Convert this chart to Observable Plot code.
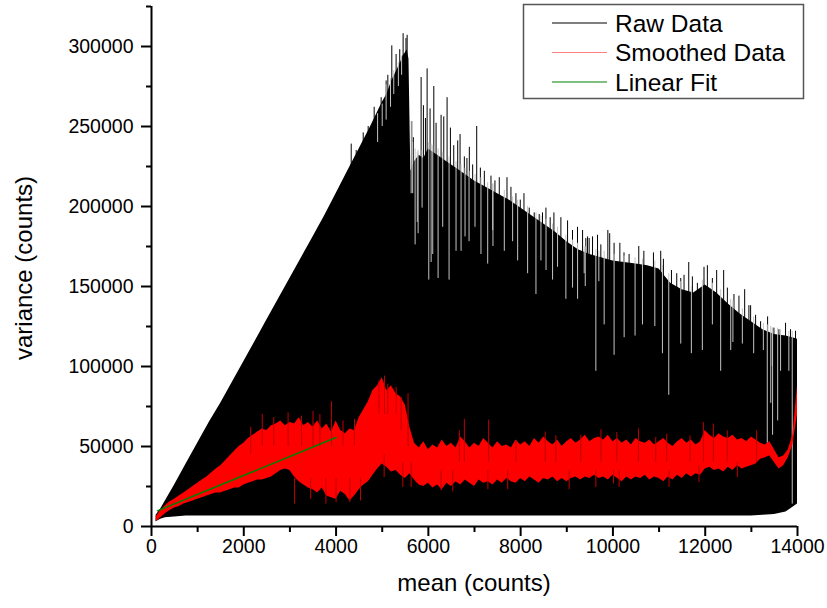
<!DOCTYPE html>
<html>
<head>
<meta charset="utf-8">
<script src="https://cdn.jsdelivr.net/npm/d3@7"></script>
<script src="https://cdn.jsdelivr.net/npm/@observablehq/plot@0.6"></script>
<style>
  html, body { margin: 0; padding: 0; background: white; }
  #chart svg { display: block; }
</style>
</head>
<body>
<div id="chart"></div>
<script>
// ---- Raw data envelope (mean counts -> variance, thousands) ----
const rawX  = [100, 200, 300, 500, 750, 1000, 1250, 1500, 1750, 2000, 2250, 2500, 2750, 3000, 3250, 3500, 3750, 4000, 4250, 4500, 4750, 5000,
               5100, 5200, 5300, 5400, 5450, 5500, 5540, 5580, 5620, 5700, 5800, 5900, 6000, 6200, 6400, 6600, 6800, 7000,
               7250, 7500, 7750, 8000, 8250, 8500, 8750, 9000, 9250, 9500, 9750, 10000, 10250, 10500, 10750, 11000, 11250,
               11500, 11750, 12000, 12250, 12500, 12750, 13000, 13250, 13500, 13750, 13900, 14000];
const rawHi = [7, 11, 16, 26, 39, 52, 65, 77, 90, 103, 116, 129, 142, 155, 168, 181, 194, 208, 222, 236, 250, 265,
               270, 278, 284, 290, 294, 296, 298, 292, 222, 228, 232, 230, 236, 232, 228, 224, 220, 216,
               212, 208, 204, 199, 194, 189, 184, 178, 173, 170, 168, 166, 165, 164, 163, 161, 152,
               148, 146, 151, 146, 139, 133, 128, 123, 120, 119, 118, 117];
const rawLo = [3, 4.5, 5.5, 6, 6.5, 6.5, 6.5, 6.5, 6.5, 6.5, 6.5, 6.5, 6.5, 6.5, 6.5, 6.5, 6.5, 6.5, 6.5, 6.5, 6.5, 6.5,
               6.5, 6.5, 6.5, 6.5, 6.5, 6.5, 6.5, 6.5, 6.5, 6.5, 6.5, 6.5, 6.5, 6.5, 6.5, 6.5, 6.5, 6.5,
               6.5, 6.5, 6.5, 6.5, 6.5, 6.5, 6.5, 6.5, 6.5, 6.5, 6.5, 6.5, 6.5, 6.5, 6.5, 6.5, 6.5,
               6.5, 6.5, 6.5, 6.5, 6.5, 6.5, 6.5, 7, 7.5, 9, 12, 14];
// raw spikes above the dense part: [mean, variance (k)]
const rawSpikes = [[4328,239],[4436,235],[4588,246],[4696,250],[4826,262],[4977,268],[5085,278.5],[5122,282],[5208,300.4],
  [5301,295],[5380,298],[5453,308],[5515,305],[5540,307],
  [5640,253],[5675,243],[5843,280.6],[5893,263],[5937,255],[5973,286],[6037,261],[6118,275],[6167,252],[6276,257],[6334,256],
  [6406,268],[6478,249],[6550,238],[6636,241],[6687,245],[6780,231],[6836,230],[6888,237],[6960,226],[7048,250],[7127,224],
  [7213,222],[7357,219],[7443,216],[7537,218],[7704,218],[7790,212],[7898,208],[7992,204],[8072,208],[8186,199],[8294,196],
  [8402,195],[8474,196],[8548,199],[8640,193],[8721,196],[8872,193],[9017,191],[9124,185],[9232,187],[9342,185],[9413,180],
  [9450,181],[9485,180],[9558,181],[9666,182],[9738,176],[9890,185],[9930,183],[10025,177],[10150,177],[10240,171],[10350,170],
  [10560,175],[10670,172],[10878,171],[11036,172],[11094,167],[11268,160],[11383,158],[11470,155],[11541,157],[11643,165],
  [11722,156],[11830,152],[11974,162],[12047,163],[12155,155],[12248,160],[12400,160],[12480,149],[12623,145],[12731,144],
  [12855,148],[12947,138],[12984,138],[13092,132],[13200,128],[13352,131],[13489,124],[13597,123],[13741,127],[13849,123],
  [13957,122]];
// raw dips (gaps) inside the dense part: [mean, low (k), high (k)]
const rawGaps = [[4900,240,258],[5000,250,264],[5085,254,276],[5180,262,280],[5250,270,285],[5350,275,290],[5420,282,294],
  [5627,208,253],[5660,208,240],[5713,176,236],[5760,190,234],[5778,183,235],[5864,199,235],
  [6009,154,240],[6060,165,239],[6095,170,238],[6211,155,236],[6311,187,234],[6449,154,231],[6600,172,228],[6709,172,226],
  [6795,181,224],[6882,178,222],[7011,187,220],[7140,170,218],[7286,164,215],[7394,185,214],[7400,175,214],[7646,172,210],
  [7826,178,206],[7935,166,204],[8151,158,200],[8332,145,196],[8440,166,194],[8550,160,192],[8692,154,189],[8800,162,187],
  [8980,142,182],[9125,149,179],[9234,142,177],[9377,158,175],[9400,150,175],[9630,97,173],[9695,153,172],[9810,126,172],
  [10025,107,170],[10243,118,169],[10480,119,168],[10640,126,167],[10908,125,166],[11073,108,163],[11210,82,158],
  [11470,114,153],[11700,108,150],[11938,110,154],[12155,126,152],[12335,97,148],[12553,110,142],[12600,115,141],
  [12805,114,136],[13050,108,131],[13260,110,127],[13345,52,126],[13420,77,125],[13453,100,124],[13460,57,124],
  [13570,66,124],[13633,97,123],[13813,97,122],[13886,14,122]];

// ---- Smoothed data band, sampled every 100 counts from 100 to 14000 (variance, thousands) ----
const smoothHi = [6, 10, 13, 15.5, 17, 19, 21, 23, 25, 27,
  29, 31, 33.5, 36, 38, 41, 44, 47, 50, 52,
  55, 57, 59, 61, 60, 63, 64, 66, 63, 65,
  64, 68, 63, 65, 62, 66, 61, 64, 59, 66,
  60, 58, 61, 60, 68, 73, 78, 85, 88, 93,
  85, 88, 83, 81, 76, 62, 52, 49, 53, 48,
  51, 49, 54, 50, 52, 49, 56, 53, 49, 52,
  50, 55, 52, 49, 53, 50, 51, 49, 54, 51,
  53, 50, 55, 52, 56, 53, 51, 54, 50, 53,
  55, 52, 54, 57, 53, 55, 56, 54, 57, 53,
  55, 52, 54, 51, 55, 53, 52, 54, 51, 53,
  55, 52, 50, 53, 55, 52, 54, 51, 53, 60,
  57, 55, 58, 56, 55, 57, 54, 55, 53, 56,
  54, 52, 51, 53, 48, 43, 44, 48, 57, 88];
const smoothLo = [3, 5.5, 8, 10, 11.5, 12.5, 14, 15, 16, 17,
  18, 19, 20, 21, 21, 22, 23, 24, 24, 26,
  27, 28, 29, 29, 30, 31, 33, 35, 36, 35,
  31, 28, 26, 24, 23, 21, 24, 19, 18, 17,
  22, 20, 16, 19, 23, 26, 28, 32, 36, 39,
  37, 34, 35, 32, 30, 33, 29, 26, 25, 27,
  24, 26, 23, 27, 25, 28, 26, 29, 27, 25,
  29, 27, 28, 26, 29, 27, 30, 28, 27, 30,
  28, 31, 29, 27, 30, 29, 31, 28, 30, 28,
  30, 31, 29, 31, 30, 32, 30, 31, 29, 32,
  30, 28, 31, 29, 31, 30, 32, 29, 31, 30,
  28, 31, 29, 32, 30, 33, 31, 33, 32, 36,
  37, 35, 36, 34, 37, 35, 38, 36, 37, 38,
  39, 42, 43, 44, 40, 36, 38, 43, 51, 70];
const smoothStart = 100, smoothStep = 100;
// smoothed-data excursions beyond the band: [mean, low (k), high (k)]
const smoothSpikes = [[2150,45,62],[2400,50,70],[2650,50,68],[2960,50,71],[3250,50,69],[3500,50,72],[3650,50,70],[3900,50,78],
  [4150,50,66],[4400,50,67],[4930,70,91],[5050,70,94],[5122,70,89],[5302,70,87],[5410,60,80.6],[5560,50,83],[6672,40,59.8],
  [6780,40,67],[7307,40,66.5],[7899,40,53.6],[8533,40,59],[8764,40,56.7],[9304,40,57],[9740,40,60.4],[10085,40,58.8],
  [10553,40,61],[10928,40,55.6],[11166,40,57.7],[11671,40,56.7],[11960,40,65],[12176,40,64],[12478,40,59.8],[13114,40,59.8],
  [3100,14,30],[3450,17,30],[3780,14,30],[4000,15,30],[4300,15,30],[4530,16,30],[5042,30.6,45],[5447,24.4,40],[5627,24.4,40],
  [6276,22.3,35],[6529,21.7,35],[7290,23,35],[7719,23,35],[9052,23,35],[9630,24.4,35],[10013,26.6,35],[10135,24.4,35],
  [11216,24.4,35],[11865,27.5,38],[12696,30.6,40]];

// ---- Linear fit ----
const fitX = [130, 4000];
const fitY = [9800, 55600];

// ---- Axes & legend ----
const xTicks = [0, 2000, 4000, 6000, 8000, 10000, 12000, 14000];
const xMinor = [1000, 3000, 5000, 7000, 9000, 11000, 13000];
const yTicks = [0, 50000, 100000, 150000, 200000, 250000, 300000];
const yMinor = [25000, 75000, 125000, 175000, 225000, 275000, 325000];
const legendItems = ["Raw Data", "Smoothed Data", "Linear Fit"];
const legendColors = ["#000000", "#ff8080", "#008000"];

const K = 1000;
const raw = rawX.map((x, i) => ({x, hi: rawHi[i] * K, lo: rawLo[i] * K}));
const spikes = rawSpikes.map(([x, t]) => ({x, top: t * K}));
const gaps = rawGaps.map(([x, l, h]) => ({x, lo: l * K, hi: h * K}));
const smooth = smoothHi.map((h, i) => ({x: smoothStart + i * smoothStep, hi: h * K, lo: smoothLo[i] * K}));
const sSpikes = smoothSpikes.map(([x, l, h]) => ({x, lo: l * K, hi: h * K}));
const fit = fitX.map((x, i) => ({x, y: fitY[i]}));

const font = "'Liberation Sans', Arial, sans-serif";

const chart = Plot.plot({
  width: 827, height: 608,
  marginLeft: 151, marginRight: 30, marginTop: 6, marginBottom: 82,
  x: {domain: [0, 14000]},
  y: {domain: [0, 325000]},
  style: {fontFamily: font, fontSize: "19.5px", color: "black", background: "white", overflow: "visible"},
  marks: [
    Plot.areaY(raw, {x: "x", y1: "lo", y2: "hi", fill: "black", curve: "linear"}),
    Plot.ruleX(spikes, {x: "x", y1: 20000, y2: "top", stroke: "black", strokeWidth: 1}),
    Plot.ruleX(gaps, {x: "x", y1: "lo", y2: "hi", stroke: "#c4c4c4", strokeWidth: 1}),
    Plot.areaY(smooth, {x: "x", y1: "lo", y2: "hi", fill: "#ff0000", curve: "linear"}),
    Plot.ruleX(sSpikes, {x: "x", y1: "lo", y2: "hi", stroke: "#c00000", strokeWidth: 1}),
    Plot.line(fit, {x: "x", y: "y", stroke: "#008000", strokeWidth: 1.5}),
    Plot.axisX({ticks: xTicks, tickSize: 10, tickPadding: 3, tickFormat: d => String(d), strokeWidth: 2, label: null, fontSize: 19.5}),
    Plot.axisX({ticks: xMinor, tickSize: 6, tickFormat: () => "", strokeWidth: 2, label: null}),
    Plot.axisY({ticks: yTicks, tickSize: 10, tickPadding: 8, tickFormat: d => String(d), strokeWidth: 2, label: null, fontSize: 19.5}),
    Plot.axisY({ticks: yMinor, tickSize: 5, tickFormat: () => "", strokeWidth: 2, label: null}),
    Plot.ruleX([0], {stroke: "black", strokeWidth: 2}),
    Plot.ruleY([0], {stroke: "black", strokeWidth: 2})
  ]
});

const svg = d3.select(chart);
// axis titles
svg.append("text")
  .attr("transform", "translate(23,268) rotate(-90)")
  .attr("text-anchor", "middle").attr("dominant-baseline", "central")
  .attr("font-family", font).attr("font-size", 24).attr("fill", "black")
  .text("variance (counts)");
svg.append("text")
  .attr("x", 474).attr("y", 582)
  .attr("text-anchor", "middle").attr("dominant-baseline", "central")
  .attr("font-family", font).attr("font-size", 24).attr("fill", "black")
  .text("mean (counts)");
// legend
const lg = svg.append("g");
lg.append("rect").attr("x", 523.5).attr("y", 4.5).attr("width", 280).attr("height", 94)
  .attr("fill", "white").attr("stroke", "#555").attr("stroke-width", 1.5);
legendItems.forEach((name, i) => {
  const yy = 23 + i * 29.5;
  lg.append("line").attr("x1", 552).attr("x2", 607).attr("y1", yy).attr("y2", yy)
    .attr("stroke", legendColors[i]).attr("stroke-width", 1.2);
  lg.append("text").attr("x", 615).attr("y", yy).attr("text-anchor", "start").attr("dominant-baseline", "central")
    .attr("font-family", font).attr("font-size", 24.5).attr("fill", "black").text(name);
});

document.getElementById("chart").appendChild(chart);
</script>
</body>
</html>
